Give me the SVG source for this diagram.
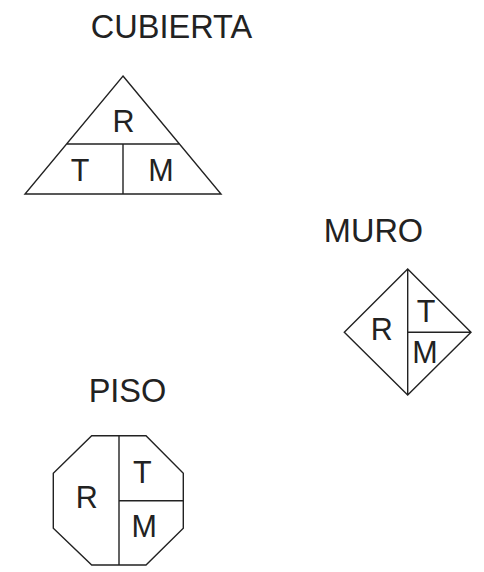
<svg xmlns="http://www.w3.org/2000/svg" width="484" height="572" viewBox="0 0 484 572">
<style>
.s{fill:none;stroke:#222;stroke-width:1.4;stroke-linejoin:miter}
.t{font-family:"Liberation Sans",Arial,sans-serif;fill:#222;text-anchor:middle}
.h{font-size:32.5px}
.l{font-size:30.5px}
</style>
<rect width="484" height="572" fill="#fff"/>
<g id="cubierta">
<text class="t h" x="171.5" y="38.3">CUBIERTA</text>
<path class="s" d="M123,76 L221,194 L25,194 Z M67,144 L180,144 M123,144 L123,194"/>
<text class="t l" x="123.5" y="132.3">R</text>
<text class="t l" x="80" y="181">T</text>
<text class="t l" x="161" y="181">M</text>
</g>
<g id="muro">
<text class="t h" x="373.5" y="242">MURO</text>
<path class="s" d="M407.7,269 L471,332.3 L407.7,395 L344.3,332.3 Z M407.7,269 L407.7,395 M407.7,332.3 L471,332.3"/>
<text class="t l" x="381.7" y="340">R</text>
<text class="t l" x="426" y="321.7">T</text>
<text class="t l" x="425" y="363">M</text>
</g>
<g id="piso">
<text class="t h" x="127.5" y="401.7">PISO</text>
<path class="s" d="M91.7,435.7 L146,435.7 L183.3,473.3 L183.3,528.3 L146,565 L91.7,565 L53.3,528.3 L53.3,473.3 Z M119,435.7 L119,565 M119,500.7 L183.3,500.7"/>
<text class="t l" x="86.7" y="508">R</text>
<text class="t l" x="142.3" y="483">T</text>
<text class="t l" x="144.2" y="536.7">M</text>
</g>
<g id="connectors"></g>
</svg>
